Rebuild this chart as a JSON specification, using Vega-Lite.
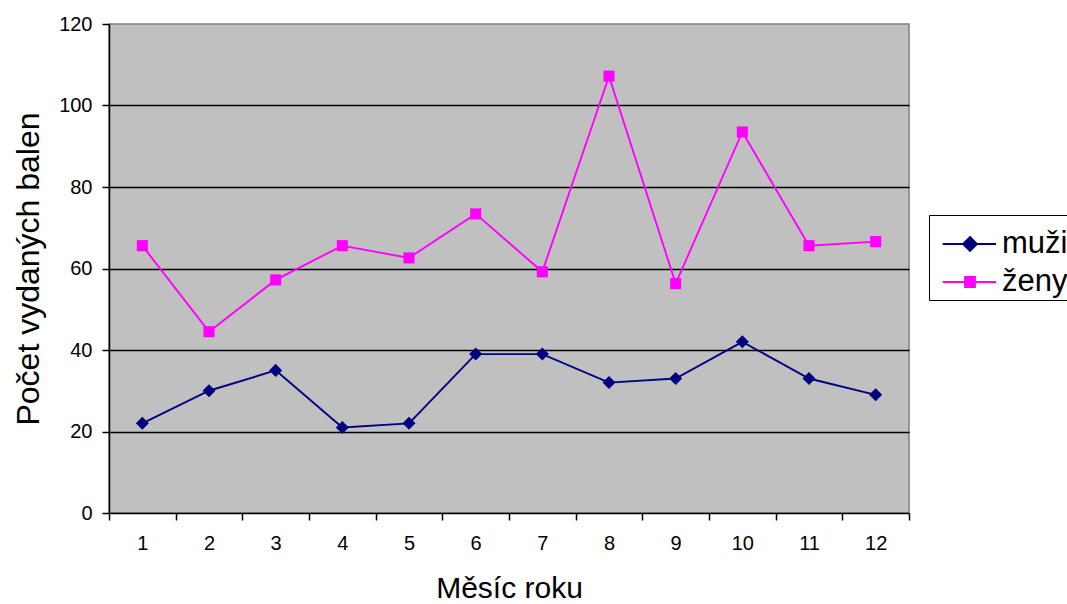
{
  "$schema": "https://vega.github.io/schema/vega-lite/v6.json",
  "width": 800,
  "height": 489,
  "autosize": "none",
  "padding": {"left": 109, "top": 24, "right": 158, "bottom": 91},
  "background": "white",
  "config": {
    "font": "Liberation Sans",
    "view": {"fill": "#C0C0C0", "stroke": "#808080", "strokeWidth": 1.5}
  },
  "data": {
    "values": [
      {"mesic": 1, "pohlavi": "muži", "pocet": 22},
      {"mesic": 2, "pohlavi": "muži", "pocet": 30},
      {"mesic": 3, "pohlavi": "muži", "pocet": 35},
      {"mesic": 4, "pohlavi": "muži", "pocet": 21},
      {"mesic": 5, "pohlavi": "muži", "pocet": 22},
      {"mesic": 6, "pohlavi": "muži", "pocet": 39},
      {"mesic": 7, "pohlavi": "muži", "pocet": 39},
      {"mesic": 8, "pohlavi": "muži", "pocet": 32},
      {"mesic": 9, "pohlavi": "muži", "pocet": 33},
      {"mesic": 10, "pohlavi": "muži", "pocet": 42},
      {"mesic": 11, "pohlavi": "muži", "pocet": 33},
      {"mesic": 12, "pohlavi": "muži", "pocet": 29},
      {"mesic": 1, "pohlavi": "ženy", "pocet": 65.6},
      {"mesic": 2, "pohlavi": "ženy", "pocet": 44.5},
      {"mesic": 3, "pohlavi": "ženy", "pocet": 57.2},
      {"mesic": 4, "pohlavi": "ženy", "pocet": 65.6},
      {"mesic": 5, "pohlavi": "ženy", "pocet": 62.6},
      {"mesic": 6, "pohlavi": "ženy", "pocet": 73.4},
      {"mesic": 7, "pohlavi": "ženy", "pocet": 59.2},
      {"mesic": 8, "pohlavi": "ženy", "pocet": 107.2},
      {"mesic": 9, "pohlavi": "ženy", "pocet": 56.3},
      {"mesic": 10, "pohlavi": "ženy", "pocet": 93.5},
      {"mesic": 11, "pohlavi": "ženy", "pocet": 65.6},
      {"mesic": 12, "pohlavi": "ženy", "pocet": 66.6}
    ]
  },
  "encoding": {
    "x": {
      "field": "mesic",
      "type": "ordinal",
      "bandPosition": 0.5,
      "scale": {"type": "band", "paddingInner": 0, "paddingOuter": 0},
      "axis": {
        "title": "Měsíc roku",
        "titleFontSize": 30,
        "titleFontWeight": "normal",
        "titleColor": "black",
        "titlePadding": 20,
        "labelAngle": 0,
        "labelFontSize": 20,
        "labelColor": "black",
        "labelPadding": 13,
        "tickBand": "extent",
        "tickSize": 7,
        "tickColor": "black",
        "tickWidth": 1.5,
        "domainColor": "black",
        "domainWidth": 1.5,
        "grid": false
      }
    },
    "y": {
      "field": "pocet",
      "type": "quantitative",
      "scale": {"domain": [0, 120], "nice": false},
      "axis": {
        "values": [0, 20, 40, 60, 80, 100, 120],
        "title": "Počet vydaných balen",
        "titleFontSize": 32,
        "titleFontWeight": "normal",
        "titleColor": "black",
        "titlePadding": 13,
        "labelFontSize": 20,
        "labelColor": "black",
        "labelPadding": 10,
        "tickSize": 7,
        "tickColor": "black",
        "tickWidth": 1.5,
        "domainColor": "black",
        "domainWidth": 1.5,
        "grid": true,
        "gridColor": "black",
        "gridWidth": 1.5,
        "gridOpacity": {"condition": {"test": "datum.value === 0 || datum.value === 120", "value": 0}, "value": 1}
      }
    }
  },
  "layer": [
    {
      "mark": {"type": "line", "strokeWidth": 1.9},
      "encoding": {
        "color": {
          "field": "pohlavi",
          "type": "nominal",
          "scale": {"domain": ["muži", "ženy"], "range": ["#000080", "#FF00FF"]},
          "legend": {
            "orient": "none",
            "legendX": 820,
            "legendY": 191,
            "title": " ",
            "titleFontSize": 6,
            "titlePadding": 4,
            "padding": 3,
            "strokeColor": "black",
            "fillColor": "white",
            "symbolSize": 900,
            "symbolStrokeWidth": 1.8,
            "symbolType": {"expr": "datum.value === 'muži' ? 'M-0.35,0H3.2M1.467,-0.467L1.933,0L1.467,0.467L1,0ZM1.467,-0.34L1.807,0L1.467,0.34L1.127,0ZM1.467,-0.22L1.687,0L1.467,0.22L1.247,0ZM1.467,-0.1L1.567,0L1.467,0.1L1.367,0Z' : 'M-0.35,0H3.2M1.134,-0.333H1.8V0.333H1.134ZM1.247,-0.22H1.687V0.22H1.247ZM1.357,-0.11H1.577V0.11H1.357Z'"},
            "labelFontSize": 31,
            "labelFont": "Liberation Sans",
            "labelColor": "black",
            "labelOffset": 38,
            "rowPadding": 7
          }
        }
      }
    },
    {
      "transform": [{"filter": "datum.pohlavi === 'muži'"}],
      "mark": {"type": "point", "filled": true, "opacity": 1, "size": 170, "color": "#000080", "shape": "M0,-1L1,0L0,1L-1,0Z"}
    },
    {
      "transform": [{"filter": "datum.pohlavi === 'ženy'"}],
      "mark": {"type": "point", "filled": true, "opacity": 1, "size": 170, "color": "#FF00FF", "shape": "M-0.85,-0.85H0.85V0.85H-0.85Z"}
    }
  ]
}
